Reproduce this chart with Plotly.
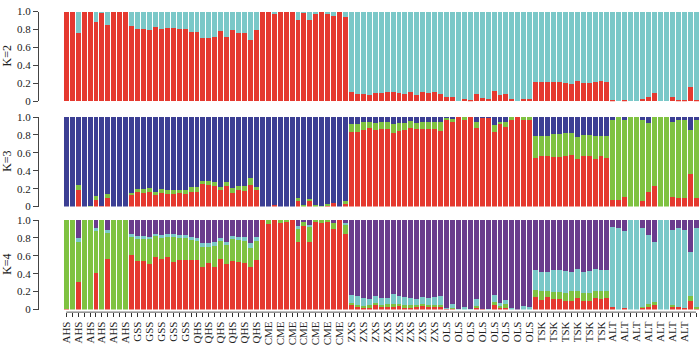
import plotly.graph_objects as go
import numpy as np

# ---- data ----
group_names = ["AHS", "GSS", "QHS", "CME", "ZXS", "OLS", "TSK", "ALT"]
group_sizes = [11, 11, 11, 15, 16, 15, 13, 15]

# K=2 : proportion of red cluster (rest = cyan)
k2_red = [1.0, 1.0, 0.76, 1.0, 1.0, 0.88, 0.99, 0.85, 1.0, 1.0, 1.0,
          0.84, 0.80, 0.80, 0.79, 0.83, 0.80, 0.82, 0.82, 0.81, 0.81, 0.77,
          0.77, 0.71, 0.71, 0.72, 0.78, 0.72, 0.79, 0.76, 0.76, 0.68, 0.79,
          1.0, 1.0, 0.975, 1.0, 1.0, 1.0, 0.90, 0.99, 0.91, 0.98, 1.0, 0.97, 0.955, 1.0, 0.94,
          0.10, 0.086, 0.08, 0.075, 0.09, 0.09, 0.10, 0.10, 0.09, 0.08, 0.10, 0.07, 0.10, 0.09, 0.10, 0.08,
          0.045, 0.05, 0.0, 0.025, 0.015, 0.08, 0.035, 0.03, 0.11, 0.075, 0.08, 0.03, 0.0, 0.025, 0.025,
          0.22, 0.22, 0.22, 0.21, 0.21, 0.20, 0.19, 0.23, 0.20, 0.20, 0.215, 0.23, 0.215,
          0.02, 0.0, 0.02, 0.0, 0.0, 0.03, 0.05, 0.09, 0.0, 0.0, 0.045, 0.02, 0.02, 0.155, 0.02]

# K=3 : cumulative tops (red, red+green); rest = dark blue
k3_red = [0, 0, 0.19, 0, 0, 0.07, 0.01, 0.10, 0, 0, 0,
          0.125, 0.16, 0.155, 0.165, 0.13, 0.155, 0.145, 0.145, 0.15, 0.145, 0.165,
          0.165, 0.25, 0.24, 0.225, 0.19, 0.23, 0.155, 0.18, 0.17, 0.245, 0.18,
          0, 0, 0.02, 0, 0, 0, 0.06, 0, 0.065, 0, 0, 0.01, 0.035, 0, 0.03,
          0.83, 0.83, 0.86, 0.875, 0.85, 0.87, 0.865, 0.82, 0.84, 0.855, 0.875, 0.865, 0.865, 0.865, 0.865, 0.84,
          0.97, 0.945, 1.0, 0.97, 1.0, 0.875, 0.99, 0.99, 0.83, 0.92, 0.885, 0.97, 1.0, 0.965, 0.965,
          0.545, 0.56, 0.565, 0.55, 0.55, 0.56, 0.58, 0.53, 0.57, 0.56, 0.53, 0.56, 0.545,
          0.075, 0.075, 0.11, 0, 0, 0.065, 0.16, 0.235, 0, 0, 0.11, 0.095, 0.10, 0.36, 0.10]
k3_green_top = [0, 0, 0.24, 0, 0.01, 0.115, 0.01, 0.145, 0, 0, 0,
                0.155, 0.20, 0.20, 0.21, 0.165, 0.20, 0.18, 0.18, 0.185, 0.185, 0.22,
                0.22, 0.29, 0.29, 0.27, 0.215, 0.27, 0.21, 0.23, 0.23, 0.32, 0.215,
                0, 0, 0.02, 0, 0, 0, 0.095, 0.02, 0.09, 0.02, 0.01, 0.03, 0.035, 0, 0.06,
                0.92, 0.92, 0.94, 0.945, 0.93, 0.94, 0.94, 0.92, 0.935, 0.935, 0.955, 0.935, 0.95, 0.945, 0.945, 0.945,
                0.995, 0.975, 1.0, 1.0, 1.0, 0.945, 0.99, 0.99, 0.91, 0.945, 0.945, 1.0, 1.0, 1.0, 1.0,
                0.785, 0.785, 0.79, 0.81, 0.81, 0.82, 0.82, 0.78, 0.80, 0.80, 0.785, 0.79, 0.785,
                0.97, 1.0, 0.97, 1.0, 1.0, 0.97, 0.935, 1.0, 1.0, 1.0, 0.945, 0.97, 0.97, 0.85, 0.965]

# K=4 : cumulative tops (red, +green, +cyan); rest = purple
k4_red = [0.01, 0, 0.305, 0, 0, 0.405, 0, 0.56, 0, 0, 0,
          0.605, 0.545, 0.545, 0.505, 0.585, 0.56, 0.585, 0.53, 0.555, 0.555, 0.555,
          0.555, 0.48, 0.525, 0.47, 0.57, 0.505, 0.545, 0.535, 0.515, 0.48, 0.55,
          1.0, 0.955, 1.0, 0.97, 0.975, 1.0, 0.75, 0.93, 0.755, 0.98, 0.965, 0.975, 0.90, 1.0, 0.85,
          0.045, 0.03, 0.02, 0.02, 0.055, 0.03, 0.03, 0.03, 0.04, 0.02, 0.02, 0.03, 0.035, 0.03, 0.03, 0.03,
          0.01, 0.01, 0, 0, 0, 0.02, 0.01, 0, 0.06, 0.02, 0.02, 0, 0, 0, 0,
          0.145, 0.11, 0.135, 0.12, 0.115, 0.095, 0.095, 0.125, 0.095, 0.095, 0.13, 0.12, 0.125,
          0.03, 0, 0.02, 0, 0, 0.02, 0.03, 0.055, 0, 0, 0.035, 0.025, 0.015, 0.095, 0.01]
k4_green_top = [1.0, 1.0, 0.755, 1.0, 1.0, 0.875, 1.0, 0.855, 1.0, 1.0, 1.0,
                0.81, 0.79, 0.79, 0.785, 0.82, 0.80, 0.81, 0.81, 0.80, 0.80, 0.775,
                0.765, 0.695, 0.70, 0.71, 0.765, 0.72, 0.785, 0.78, 0.765, 0.69, 0.765,
                1.0, 1.0, 1.0, 1.0, 1.0, 1.0, 0.91, 0.985, 0.93, 1.0, 1.0, 1.0, 0.97, 1.0, 0.94,
                0.075, 0.055, 0.04, 0.045, 0.07, 0.055, 0.06, 0.06, 0.065, 0.045, 0.045, 0.05, 0.06, 0.055, 0.055, 0.05,
                0.01, 0.02, 0, 0, 0, 0.04, 0.01, 0, 0.08, 0.04, 0.06, 0, 0, 0, 0,
                0.215, 0.21, 0.21, 0.20, 0.20, 0.19, 0.21, 0.21, 0.19, 0.19, 0.21, 0.21, 0.21,
                0.03, 0, 0.02, 0, 0, 0.03, 0.06, 0.08, 0, 0, 0.045, 0.025, 0.015, 0.155, 0.03]
k4_cyan_top = [1.0, 1.0, 0.80, 1.0, 1.0, 0.91, 1.0, 0.89, 1.0, 1.0, 1.0,
               0.85, 0.82, 0.82, 0.815, 0.85, 0.83, 0.84, 0.84, 0.83, 0.83, 0.81,
               0.80, 0.74, 0.74, 0.75, 0.795, 0.755, 0.825, 0.815, 0.815, 0.74, 0.81,
               1.0, 1.0, 1.0, 1.0, 1.0, 1.0, 0.93, 0.985, 0.945, 1.0, 1.0, 1.0, 0.97, 1.0, 0.965,
               0.165, 0.155, 0.125, 0.12, 0.155, 0.13, 0.13, 0.17, 0.15, 0.145, 0.13, 0.12, 0.135, 0.13, 0.135, 0.155,
               0.02, 0.06, 0.01, 0.03, 0.01, 0.12, 0.01, 0.01, 0.16, 0.075, 0.11, 0.02, 0, 0.035, 0.03,
               0.44, 0.425, 0.425, 0.44, 0.44, 0.435, 0.415, 0.45, 0.425, 0.43, 0.45, 0.44, 0.44,
               0.92, 0.91, 0.88, 1.0, 1.0, 0.915, 0.83, 0.76, 1.0, 1.0, 0.89, 0.91, 0.89, 0.64, 0.91]

y_tick_vals = [0, 0.2, 0.4, 0.6, 0.8, 1.0]
y_tick_text = ["0", "0.2", "0.4", "0.6", "0.8", "1.0"]
panel_titles = ["K=2", "K=3", "K=4"]

# ---- styling ----
RED = "#e5392f"
CYAN = "#7ac8c8"
BLUE = "#3c3f94"
GREEN = "#7fc241"
PURPLE = "#6a3c8d"
FONT = "Liberation Serif"

labels = []
for name, n in zip(group_names, group_sizes):
    labels += [name] * n
n_bars = len(labels)
x = np.arange(1, n_bars + 1)

r2 = np.array(k2_red)
r3 = np.array(k3_red); g3 = np.array(k3_green_top)
r4 = np.array(k4_red); g4 = np.array(k4_green_top); c4 = np.array(k4_cyan_top)

panels = [
    [(r2, RED), (1 - r2, CYAN)],
    [(r3, RED), (g3 - r3, GREEN), (1 - g3, BLUE)],
    [(r4, RED), (g4 - r4, GREEN), (c4 - g4, CYAN), (1 - c4, PURPLE)],
]

W, H = 700, 350
# pixel rows (top, bottom) of each panel
rows = [(5.7, 98.7), (115.0, 207.7), (221.7, 314.3)]

fig = go.Figure()
for i, segs in enumerate(panels):
    ax = "" if i == 0 else str(i + 1)
    for vals, col in segs:
        fig.add_trace(go.Bar(x=x, y=np.clip(vals, 0, None), marker=dict(color=col, line=dict(width=0)),
                             xaxis="x" + ax, yaxis="y" + ax, showlegend=False, hoverinfo="skip"))

xdom = [39 / W, 699 / W]
xrange = [-3.59, n_bars + 0.5]
layout = dict(
    width=W, height=H, margin=dict(l=0, r=0, t=0, b=0),
    paper_bgcolor="white", plot_bgcolor="white",
    barmode="stack", bargap=0.17,
    font=dict(family=FONT, size=11, color="#222"),
)
tickvals_x = list(x)
ticktext_x = [labels[j] if j % 2 == 0 else "" for j in range(n_bars)]
for i, (top, bot) in enumerate(rows):
    ax = "" if i == 0 else str(i + 1)
    ydom = [1 - bot / H, 1 - top / H]
    xa = dict(domain=xdom, range=xrange, anchor="y" + ax, showgrid=False, zeroline=False,
              showline=False, showticklabels=False, ticks="")
    if i == 2:
        xa.update(anchor="free", position=1 - 317 / H, showticklabels=True, ticks="outside",
                  ticklen=4, tickcolor="#333", tickwidth=1, tickvals=tickvals_x, ticktext=ticktext_x,
                  tickangle=-90, tickfont=dict(family=FONT, size=11, color="#222"))
    layout["xaxis" + ax] = xa
    layout["yaxis" + ax] = dict(domain=ydom, range=[0, 1], anchor="x" + ax, showgrid=False,
                                zeroline=False, showline=True, linecolor="#444", linewidth=1,
                                ticks="outside", ticklen=5, tickcolor="#444", tickwidth=1,
                                tickvals=y_tick_vals, ticktext=y_tick_text,
                                tickfont=dict(family=FONT, size=11, color="#222"))
fig.update_layout(**layout)

# bottom axis line from first to last bar
fig.add_shape(type="line", xref="x3", yref="paper", x0=1, x1=n_bars,
              y0=1 - 317 / H, y1=1 - 317 / H, line=dict(color="#555", width=1))

for i, (top, bot) in enumerate(rows):
    fig.add_annotation(text=panel_titles[i], xref="paper", yref="paper", x=7 / W,
                       y=1 - (top + bot) / 2 / H, textangle=-90, showarrow=False,
                       xanchor="center", yanchor="middle",
                       font=dict(family=FONT, size=12, color="#222"))

fig.write_html("out.html")
